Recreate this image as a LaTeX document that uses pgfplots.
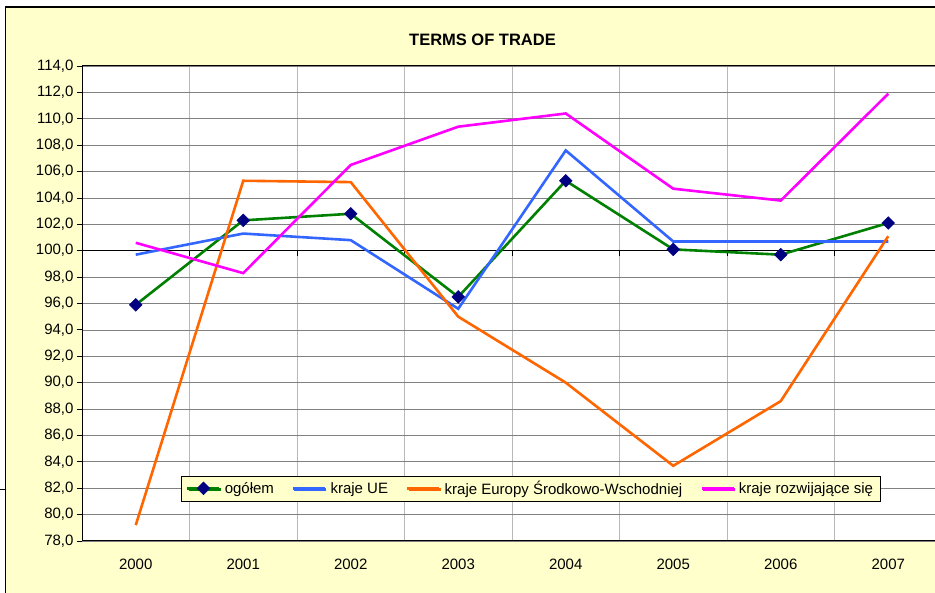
\documentclass[border=0pt]{standalone}
\usepackage{fontspec}
\setmainfont{Liberation Sans}
\usepackage{pgfplots}
\pgfplotsset{compat=1.18}
\usetikzlibrary{shadows}
\definecolor{chartbg}{HTML}{FFFFCC}
\definecolor{cgreen}{HTML}{008000}
\definecolor{cnavy}{HTML}{000080}
\definecolor{cblue}{HTML}{3366FF}
\definecolor{corange}{HTML}{FF6600}
\definecolor{cmagenta}{HTML}{FF00FF}
\begin{document}
\begin{tikzpicture}[x=1pt,y=1pt,font=\fontsize{15}{18}\selectfont]
\useasboundingbox (0,0) rectangle (935,593);
\fill[chartbg] (5.5,0) rectangle (935,586);
\draw[black,line width=1.3pt] (5.5,0) -- (5.5,586) -- (935,586);
\draw[black,line width=1pt] (0,103) -- (5.5,103);
\node[font=\fontsize{16.5}{19}\selectfont\bfseries] at (482.5,553) {TERMS OF TRADE};
\begin{axis}[
  at={(82pt,52pt)}, anchor=south west, scale only axis,
  width=860pt, height=475pt,
  xmin=-0.5, xmax=7.5, ymin=78, ymax=114,
  axis background/.style={fill=white},
  axis line style={black, line width=1pt},
  xtick={0,1,2,3,4,5,6,7},
  xticklabels={2000,2001,2002,2003,2004,2005,2006,2007},
  minor xtick={0.5,1.5,2.5,3.5,4.5,5.5,6.5},
  xminorgrids,
  minor x grid style={black!28, line width=0.9pt},
  x tick style={draw=none},
  xtick pos=bottom,
  xticklabel style={yshift=-10pt},
  ytick={78,80,...,114},
  ymajorgrids,
  major y grid style={black!50, line width=0.7pt},
  ytick pos=left,
  tick align=outside,
  major tick length=5pt,
  y tick style={black, line width=0.8pt},
  yticklabel style={/pgf/number format/.cd, fixed, fixed zerofill, precision=1, use comma, assume math mode=true},
  legend columns=4,
  legend style={at={(0.1151,0.0842)}, anchor=south west, draw=black, fill=chartbg,
    drop shadow={shadow xshift=1.2pt, shadow yshift=-1.2pt, fill=black, opacity=1},
    font=\fontsize{15}{18}\selectfont, inner xsep=5pt, inner ysep=3pt,
    /tikz/every odd column/.append style={column sep=2pt},
    /tikz/every even column/.append style={column sep=16pt}},
  legend image code/.code={\draw[mark repeat=2,mark phase=2,line width=2.6pt,#1] plot coordinates {(0pt,0pt) (16pt,0pt) (32pt,0pt)};},
]
\draw[black, line width=1pt] (axis cs:-0.5,100) -- (axis cs:7.5,100);
\pgfplotsinvokeforeach{0.5,1.5,2.5,3.5,4.5,5.5,6.5}{
  \draw[black, line width=0.8pt] (axis cs:#1,100) -- ([yshift=-5pt]axis cs:#1,100);
}
\addplot[cgreen, line width=2.6pt, mark=square*, mark size=4.5pt,
  mark options={rotate=45, fill=cnavy, draw=cnavy, line width=0.5pt}]
  coordinates {(0,95.9) (1,102.3) (2,102.8) (3,96.5) (4,105.3) (5,100.1) (6,99.7) (7,102.1)};
\addlegendentry{ogółem}
\addplot[cblue, line width=2.6pt]
  coordinates {(0,99.7) (1,101.3) (2,100.8) (3,95.6) (4,107.6) (5,100.7) (6,100.7) (7,100.7)};
\addlegendentry{kraje UE}
\addplot[corange, line width=2.6pt]
  coordinates {(0,79.2) (1,105.3) (2,105.2) (3,95.0) (4,90.0) (5,83.7) (6,88.6) (7,101.1)};
\addlegendentry{kraje Europy Środkowo-Wschodniej}
\addplot[cmagenta, line width=2.6pt]
  coordinates {(0,100.6) (1,98.3) (2,106.5) (3,109.4) (4,110.4) (5,104.7) (6,103.8) (7,111.9)};
\addlegendentry{kraje rozwijające się}
\end{axis}
\end{tikzpicture}
\end{document}
